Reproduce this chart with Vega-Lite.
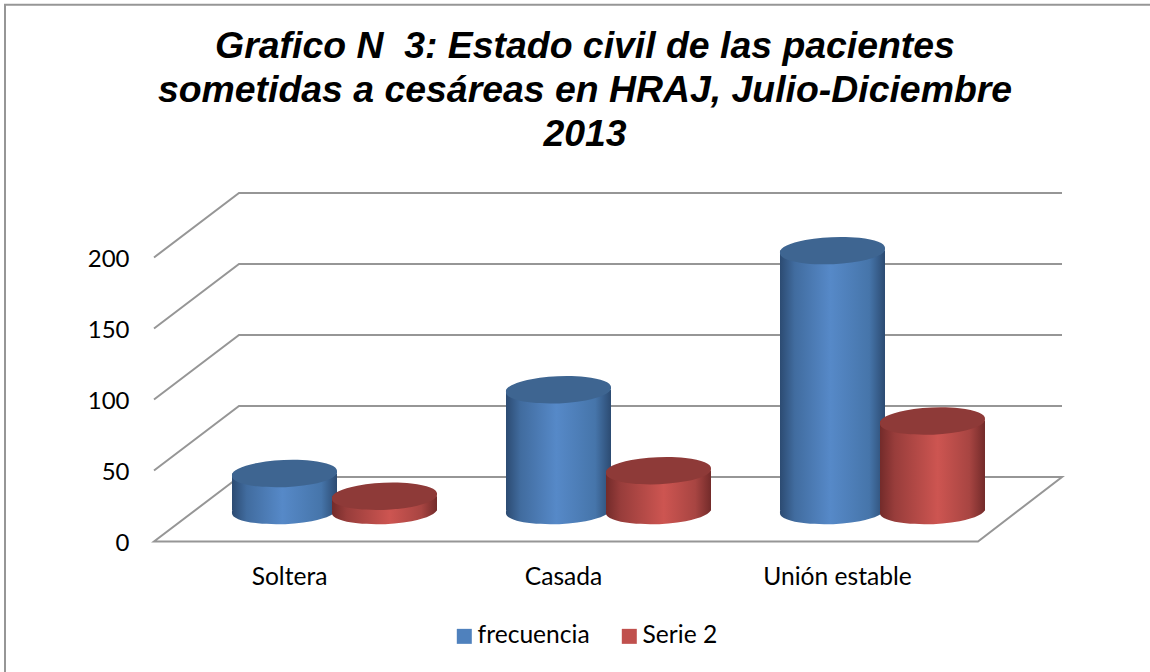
{
"$schema":"https://vega.github.io/schema/vega-lite/v6.json",
"width":908,"height":348.5,
"autosize":{"type":"none"},
"padding":{"left":154,"top":193,"right":88,"bottom":130.5},
"background":"white",
"view":{"stroke":null},
"title":{"text":["Grafico N\u00a0\u00a03: Estado civil de las pacientes","sometidas a cesáreas en HRAJ, Julio-Diciembre","2013"],"anchor":"middle","frame":"group","dx":-23,"offset":-191,"baseline":"bottom","font":"Liberation Sans","fontSize":37.4,"fontWeight":"bold","fontStyle":"italic","lineHeight":44,"color":"#000000"},
"datasets":{
"bars":[
{"categoria":"Soltera","serie":"frecuencia","valor":26},
{"categoria":"Casada","serie":"frecuencia","valor":85},
{"categoria":"Unión estable","serie":"frecuencia","valor":183},
{"categoria":"Soltera","serie":"Serie 2","valor":10},
{"categoria":"Casada","serie":"Serie 2","valor":28},
{"categoria":"Unión estable","serie":"Serie 2","valor":63}],
"frame":[
{"g":"w100","o":1,"px":0,"valor":100},{"g":"w100","o":2,"px":85,"valor":145.4},{"g":"w100","o":3,"px":908,"valor":145.4},
{"g":"w50","o":1,"px":0,"valor":50},{"g":"w50","o":2,"px":85,"valor":95.4},{"g":"w50","o":3,"px":908,"valor":95.4},
{"g":"w150","o":1,"px":0,"valor":150},{"g":"w150","o":2,"px":85,"valor":195.4},{"g":"w150","o":3,"px":908,"valor":195.4},
{"g":"w200","o":1,"px":0,"valor":200},{"g":"w200","o":2,"px":85,"valor":245.4},{"g":"w200","o":3,"px":908,"valor":245.4},
{"g":"floor","o":1,"px":85,"valor":45.4},{"g":"floor","o":2,"px":908,"valor":45.4},{"g":"floor","o":3,"px":824,"valor":0},{"g":"floor","o":4,"px":0,"valor":0},{"g":"floor","o":5,"px":85,"valor":45.4},
{"g":"border","o":1,"px":-149,"valor":-92},{"g":"border","o":2,"px":-149,"valor":378},{"g":"border","o":3,"px":996,"valor":378}]
},
"encoding":{"y":{"field":"valor","type":"quantitative","scale":{"domain":[0,245.4],"nice":false,"zero":false},"axis":{"values":[0,50,100,150,200],"domain":false,"ticks":false,"grid":false,"title":null,"labelFont":"Lato","labelFontSize":24,"labelColor":"#000000","labelPadding":25,"labelOffset":2}}},
"resolve":{"scale":{"x":"independent"}},
"layer":[
{"data":{"name":"frame"},"mark":{"type":"line","color":"#969696","strokeWidth":2},
 "encoding":{"x":{"field":"px","type":"quantitative","axis":null,"scale":{"domain":[0,908],"nice":false,"zero":false}},
 "detail":{"field":"g"},"order":{"field":"o"}}},
{"data":{"name":"bars"},"mark":{"type":"point","opacity":0,"shape":"square","filled":true},
 "encoding":{"x":{"field":"categoria","type":"nominal","axis":null},
 "color":{"field":"serie","type":"nominal","scale":{"domain":["frecuencia","Serie 2"],"range":["#4f81bd","#c0504d"]},
 "legend":{"orient":"none","legendX":298,"legendY":431,"direction":"horizontal","title":null,"symbolType":"square","symbolSize":225,"symbolOpacity":1,"symbolStrokeWidth":0,"labelFont":"Lato","labelFontSize":24.6,"labelColor":"#000000","labelOffset":1,"columnPadding":27}}}},
{"data":{"name":"bars"},"transform":[{"filter":"datum.serie=='frecuencia'"}],
 "encoding":{"x":{"field":"categoria","type":"nominal","sort":["Soltera","Casada","Unión estable"],"scale":{"range":[-1.5,820.5],"padding":0},"axis":{"domain":false,"ticks":false,"title":null,"labelAngle":0,"labelFont":"Lato","labelFontSize":24.6,"labelColor":"#000000","labelPadding":24}}},
 "layer":[
 {"mark":{"type":"point","filled":true,"opacity":1,"strokeWidth":0,"size":11025,"xOffset":-5,"yOffset":-31,"shape":"M-1,.04A1.002,.246,-2.4,1,1,1,-.04A1.002,.246,-2.4,1,1,-1,.04Z","fill":{"gradient":"linear","x1":0,"x2":1,"y1":0,"y2":0,"stops":[{"offset":0,"color":"#2c4b72"},{"offset":0.14,"color":"#416c9f"},{"offset":0.48,"color":"#5689c8"},{"offset":0.85,"color":"#4675aa"},{"offset":1,"color":"#2c4b72"}]}},
  "encoding":{"y":{"datum":0,"type":"quantitative"}}},
 {"mark":{"type":"bar","width":105,"xOffset":-5,"yOffset":-31,"fill":{"gradient":"linear","x1":0,"x2":1,"y1":0,"y2":0,"stops":[{"offset":0,"color":"#2c4b72"},{"offset":0.14,"color":"#416c9f"},{"offset":0.48,"color":"#5689c8"},{"offset":0.85,"color":"#4675aa"},{"offset":1,"color":"#2c4b72"}]}}},
 {"mark":{"type":"point","filled":true,"opacity":1,"strokeWidth":0,"size":11025,"xOffset":-5,"yOffset":-31,"shape":"M-1,.04A1.002,.246,-2.4,1,1,1,-.04A1.002,.246,-2.4,1,1,-1,.04Z","fill":"#3e6591"}}
]},
{"data":{"name":"bars"},"transform":[{"filter":"datum.serie=='Serie 2'"}],
 "encoding":{"x":{"field":"categoria","type":"nominal","sort":["Soltera","Casada","Unión estable"],"scale":{"range":[-1.5,820.5],"padding":0},"axis":null}},
 "layer":[
 {"mark":{"type":"point","filled":true,"opacity":1,"strokeWidth":0,"size":11025,"xOffset":95,"yOffset":-31,"shape":"M-1,.04A1.002,.246,-2.4,1,1,1,-.04A1.002,.246,-2.4,1,1,-1,.04Z","fill":{"gradient":"linear","x1":0,"x2":1,"y1":0,"y2":0,"stops":[{"offset":0,"color":"#732b2a"},{"offset":0.14,"color":"#983d3b"},{"offset":0.55,"color":"#cd5551"},{"offset":0.85,"color":"#a84542"},{"offset":1,"color":"#732b2a"}]}},
  "encoding":{"y":{"datum":0,"type":"quantitative"}}},
 {"mark":{"type":"bar","width":105,"xOffset":95,"yOffset":-31,"fill":{"gradient":"linear","x1":0,"x2":1,"y1":0,"y2":0,"stops":[{"offset":0,"color":"#732b2a"},{"offset":0.14,"color":"#983d3b"},{"offset":0.55,"color":"#cd5551"},{"offset":0.85,"color":"#a84542"},{"offset":1,"color":"#732b2a"}]}}},
 {"mark":{"type":"point","filled":true,"opacity":1,"strokeWidth":0,"size":11025,"xOffset":95,"yOffset":-31,"shape":"M-1,.04A1.002,.246,-2.4,1,1,1,-.04A1.002,.246,-2.4,1,1,-1,.04Z","fill":"#8e3a38"}}
]}
]
}
